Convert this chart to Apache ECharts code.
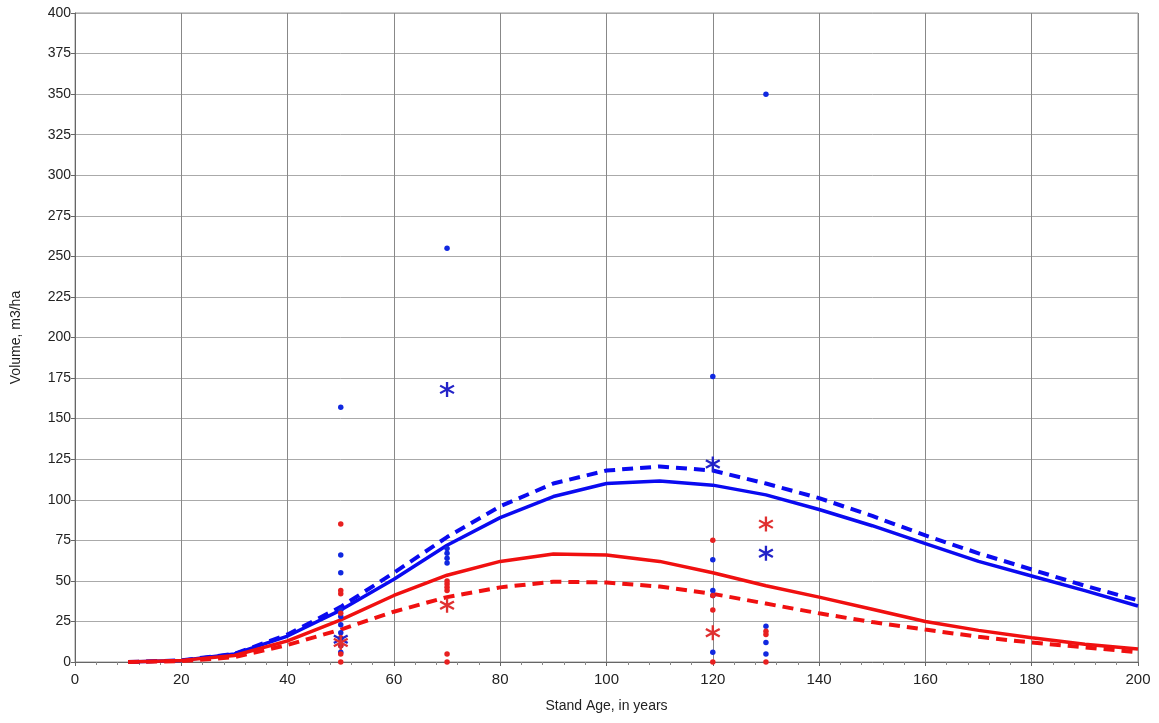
<!DOCTYPE html>
<html>
<head>
<meta charset="utf-8">
<script src="https://cdn.jsdelivr.net/npm/echarts@6/dist/echarts.min.js"></script>
<style>
html,body{margin:0;padding:0;background:#fff;}
#chart{width:1159px;height:723px;}
</style>
</head>
<body>
<div id="chart"></div>
<script>
// ---- Data ----
const ages = [10,20,30,40,50,60,70,80,90,100,110,120,130,140,150,160,170,180,190,200];
const blueSolid  = [0,1,5,16,32,51,72,89,102,110,111.5,109,103,94,84,73,62,53,44,34.5];
const blueDashed = [0,1,5,17,34,55,77,96,110,118,120.5,118,110,101,90,78,67,57,47,38];
const redSolid   = [0,1,4,13,26,41,53.5,62,66.5,66,62,55,47,40,32.5,25,19.5,15,11,8];
const redDashed  = [0,0.5,3,10.5,20,31,40,46,49.5,49,46.5,42,36,30,24.6,20,15.5,12,9,6];

const blueDots = [[50,157],[50,66],[50,55],[50,32],[50,28],[50,23],[50,18],[50,10],[50,6],
                  [70,255],[70,70],[70,67],[70,64],[70,61],
                  [120,176],[120,63],[120,44],[120,41],[120,6],
                  [130,350],[130,22],[130,12],[130,5]];
const redDots  = [[50,85],[50,44],[50,42],[50,30],[50,15],[50,10],[50,5],[50,0],
                  [70,50],[70,48],[70,46],[70,44],[70,5],[70,0],
                  [120,75],[120,41],[120,32],[120,0],
                  [130,19],[130,17],[130,0]];
const blueStars = [[50,14],[70,168],[120,122],[130,67]];
const redStars  = [[50,12],[70,35],[120,18],[130,85]];

const xTicks = {min:0, max:200, interval:20};
const yTicks = {min:0, max:400, interval:25};

// ---- asterisk symbol path ----
function asteriskPath(){
  const L=10, w=1.45;
  let p='';
  [Math.PI/2, Math.PI/6, 5*Math.PI/6].forEach(a=>{
    const c=Math.cos(a), s=Math.sin(a);
    const nx=-s*w, ny=c*w;
    const pts=[[L*c+nx,L*s+ny],[L*c-nx,L*s-ny],[-L*c-nx,-L*s-ny],[-L*c+nx,-L*s+ny]];
    p+='M'+pts.map(q=>q[0].toFixed(3)+' '+q[1].toFixed(3)).join(' L')+' Z ';
  });
  return 'path://'+p;
}
const star = asteriskPath();

const pair = (xs, ys) => xs.map((x,i)=>[x, ys[i]]);
const BLUE='#0a0af0', RED='#f01010';
const font='"Liberation Sans", Arial, sans-serif';

const chart = echarts.init(document.getElementById('chart'));
chart.setOption({
  animation:false,
  backgroundColor:'#fff',
  grid:{left:75, right:21, top:13, bottom:61, show:true, borderColor:'#999', borderWidth:1},
  xAxis:{
    type:'value', min:xTicks.min, max:xTicks.max, interval:xTicks.interval,
    name:'Stand Age, in years', nameLocation:'middle', nameGap:37,
    nameTextStyle:{fontFamily:font, fontSize:14, color:'#222'},
    axisLine:{show:true, onZero:false, lineStyle:{color:'#666'}},
    axisTick:{show:true, length:4, lineStyle:{color:'#666'}},
    minorTick:{show:true, splitNumber:5, length:3, lineStyle:{color:'#888'}},
    axisLabel:{fontFamily:font, fontSize:15, color:'#222', margin:10},
    splitLine:{show:true, lineStyle:{color:'#888', width:1}}
  },
  yAxis:{
    type:'value', min:yTicks.min, max:yTicks.max, interval:yTicks.interval,
    name:'Volume, m3/ha', nameLocation:'middle', nameGap:52,
    nameTextStyle:{fontFamily:font, fontSize:14, color:'#222'},
    axisLine:{show:true, onZero:false, lineStyle:{color:'#666'}},
    axisTick:{show:true, length:4, lineStyle:{color:'#666'}},
    axisLabel:{fontFamily:font, fontSize:14, color:'#222', margin:4},
    splitLine:{show:true, lineStyle:{color:'#aaa', width:1}}
  },
  series:[
    {type:'line', data:pair(ages, blueSolid), symbol:'none', lineStyle:{color:BLUE, width:3.5}, z:3},
    {type:'line', data:pair(ages, blueDashed), symbol:'none', lineStyle:{color:BLUE, width:4, type:[11,7]}, z:3},
    {type:'line', data:pair(ages, redSolid), symbol:'none', lineStyle:{color:RED, width:3.5}, z:3},
    {type:'line', data:pair(ages, redDashed), symbol:'none', lineStyle:{color:RED, width:4, type:[11,7]}, z:3},
    {type:'scatter', data:blueDots, symbol:'circle', symbolSize:5.5, itemStyle:{color:'#1028e0', opacity:1}, z:4},
    {type:'scatter', data:redDots, symbol:'circle', symbolSize:5.5, itemStyle:{color:'#e82020', opacity:1}, z:4},
    {type:'scatter', data:blueStars, symbol:star, symbolSize:[15,15], itemStyle:{color:'#2323c8', opacity:1}, z:5},
    {type:'scatter', data:redStars, symbol:star, symbolSize:[15,15], itemStyle:{color:'#e03030', opacity:1}, z:5}
  ]
});
</script>
</body>
</html>
